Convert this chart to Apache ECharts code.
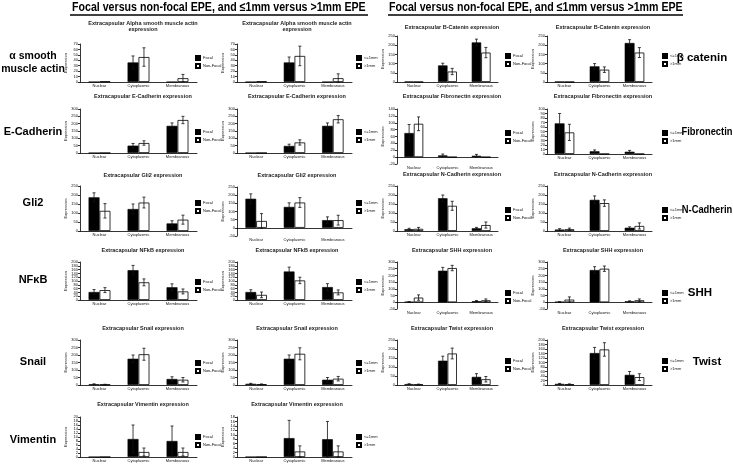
<!DOCTYPE html>
<html>
<head>
<meta charset="utf-8">
<script src="https://cdn.jsdelivr.net/npm/echarts@6/dist/echarts.min.js"></script>
<style>
  html, body { margin: 0; padding: 0; background: #fff; }
  #chart { width: 733px; height: 470px; }
</style>
</head>
<body>
<div id="chart"></div>
<script>
const categories = ['Nuclear', 'Cytoplasmic', 'Membranous'];
const focalNames = ['Focal', 'Non-Focal'];
const sizeNames = ['<=1mm', '>1mm'];

// mean values: [first group, second group]; errors have the same shape
const smaFocalMean = [[0, 36, 0], [1, 46, 7]];
const smaFocalErr = [[0, 12, 0], [0, 17, 7]];
const smaSizeMean = [[0, 36, 0], [1, 48, 7]];
const smaSizeErr = [[0, 10, 0], [0, 18, 8]];

const bcatFocalMean = [[2, 90, 215], [0, 57, 160]];
const bcatFocalErr = [[0, 12, 18], [0, 17, 28]];
const bcatSizeMean = [[2, 85, 212], [0, 67, 160]];
const bcatSizeErr = [[0, 15, 18], [0, 15, 27]];

const ecadFocalMean = [[0, 50, 185], [0, 68, 225]];
const ecadFocalErr = [[0, 15, 20], [0, 15, 25]];
const ecadSizeMean = [[0, 48, 185], [0, 72, 230]];
const ecadSizeErr = [[0, 12, 20], [0, 18, 25]];

const fibroFocalMean = [[70, 5, 4], [97, 0, 0]];
const fibroFocalErr = [[25, 4, 4], [20, 0, 0]];
const fibroSizeMean = [[68, 6, 5], [48, 0, 0]];
const fibroSizeErr = [[22, 3, 3], [18, 0, 0]];

const gli2FocalMean = [[187, 122, 42], [112, 158, 63]];
const gli2FocalErr = [[25, 28, 15], [40, 30, 25]];
const gli2SizeMean = [[178, 128, 47], [42, 155, 47]];
const gli2SizeErr = [[30, 25, 20], [45, 30, 30]];

const ncadFocalMean = [[10, 182, 15], [12, 140, 33]];
const ncadFocalErr = [[5, 18, 5], [8, 25, 17]];
const ncadSizeMean = [[8, 173, 18], [10, 155, 28]];
const ncadSizeErr = [[5, 22, 5], [6, 18, 17]];

const nfkbFocalMean = [[42, 157, 67], [52, 93, 45]];
const nfkbFocalErr = [[13, 25, 18], [13, 18, 13]];
const nfkbSizeMean = [[42, 150, 68], [27, 103, 40]];
const nfkbSizeErr = [[12, 23, 18], [15, 17, 13]];

const shhFocalMean = [[3, 235, 8], [35, 255, 15]];
const shhFocalErr = [[2, 25, 5], [20, 20, 10]];
const shhSizeMean = [[3, 240, 7], [20, 250, 15]];
const shhSizeErr = [[2, 25, 4], [20, 20, 10]];

const snailFocalMean = [[5, 175, 40], [3, 205, 35]];
const snailFocalErr = [[3, 25, 15], [2, 40, 15]];
const snailSizeMean = [[8, 175, 35], [5, 208, 42]];
const snailSizeErr = [[3, 25, 15], [2, 40, 15]];

const twistFocalMean = [[5, 135, 45], [3, 175, 32]];
const twistFocalErr = [[2, 25, 18], [2, 30, 15]];
const twistSizeMean = [[5, 142, 45], [3, 158, 35]];
const twistSizeErr = [[2, 25, 15], [2, 30, 15]];

const vimFocalMean = [[0, 9, 8], [0, 2.5, 2.5]];
const vimFocalErr = [[0, 7, 7.5], [0, 2, 2]];
const vimSizeMean = [[0, 8.5, 8], [0, 2.5, 2.5]];
const vimSizeErr = [[0, 8, 8], [0, 2.5, 2.5]];

// y axis [min, max, interval]
const smaFocalAxis = [0, 70, 10], smaSizeAxis = [0, 70, 10];
const bcatFocalAxis = [0, 250, 50], bcatSizeAxis = [0, 250, 50];
const ecadFocalAxis = [0, 300, 50], ecadSizeAxis = [0, 300, 50];
const fibroFocalAxis = [-20, 140, 20], fibroSizeAxis = [0, 100, 10];
const gli2FocalAxis = [0, 250, 50], gli2SizeAxis = [-50, 250, 50];
const ncadFocalAxis = [0, 250, 50], ncadSizeAxis = [0, 250, 50];
const nfkbFocalAxis = [0, 200, 20], nfkbSizeAxis = [0, 200, 20];
const shhFocalAxis = [-50, 300, 50], shhSizeAxis = [-50, 300, 50];
const snailFocalAxis = [0, 300, 50], snailSizeAxis = [0, 300, 50];
const twistFocalAxis = [0, 250, 50], twistSizeAxis = [0, 200, 20];
const vimFocalAxis = [0, 20, 2], vimSizeAxis = [0, 18, 2];

const cols = [
    { left: 80, width: 117, titleX: 143, legendX: 195 },
    { left: 237, width: 115, titleX: 297, legendX: 356 },
    { left: 397, width: 101, titleX: 452, legendX: 505 },
    { left: 547, width: 105, titleX: 603, legendX: 662 }
];

const panels = [
    { t: 'Extracapsular Alpha smooth muscle actin\nexpression', m: smaFocalMean, e: smaFocalErr, n: focalNames, y: smaFocalAxis, c: 0, tt: 20, top: 44, h: 38, ly: 60 },
    { t: 'Extracapsular Alpha smooth muscle actin\nexpression', m: smaSizeMean, e: smaSizeErr, n: sizeNames, y: smaSizeAxis, c: 1, tt: 20, top: 44, h: 38, ly: 60 },
    { t: 'Extracapsular B-Catenin expression', m: bcatFocalMean, e: bcatFocalErr, n: focalNames, y: bcatFocalAxis, c: 2, tt: 24, top: 36, h: 46, ly: 58 },
    { t: 'Extracapsular B-Catenin expression', m: bcatSizeMean, e: bcatSizeErr, n: sizeNames, y: bcatSizeAxis, c: 3, tt: 24, top: 36, h: 46, ly: 58 },
    { t: 'Extracapsular E-Cadherin expression', m: ecadFocalMean, e: ecadFocalErr, n: focalNames, y: ecadFocalAxis, c: 0, tt: 93, top: 109, h: 44, ly: 134 },
    { t: 'Extracapsular E-Cadherin expression', m: ecadSizeMean, e: ecadSizeErr, n: sizeNames, y: ecadSizeAxis, c: 1, tt: 93, top: 109, h: 44, ly: 134 },
    { t: 'Extracapsular Fibronectin expression', m: fibroFocalMean, e: fibroFocalErr, n: focalNames, y: fibroFocalAxis, c: 2, tt: 93, top: 109, h: 55, ly: 135 },
    { t: 'Extracapsular Fibronectin expression', m: fibroSizeMean, e: fibroSizeErr, n: sizeNames, y: fibroSizeAxis, c: 3, tt: 93, top: 109, h: 45, ly: 135 },
    { t: 'Extracapsular Gli2 expression', m: gli2FocalMean, e: gli2FocalErr, n: focalNames, y: gli2FocalAxis, c: 0, tt: 172, top: 186, h: 45, ly: 205 },
    { t: 'Extracapsular Gli2 expression', m: gli2SizeMean, e: gli2SizeErr, n: sizeNames, y: gli2SizeAxis, c: 1, tt: 172, top: 187, h: 49, ly: 205 },
    { t: 'Extracapsular N-Cadherin expression', m: ncadFocalMean, e: ncadFocalErr, n: focalNames, y: ncadFocalAxis, c: 2, tt: 171, top: 186, h: 45, ly: 212 },
    { t: 'Extracapsular N-Cadherin expression', m: ncadSizeMean, e: ncadSizeErr, n: sizeNames, y: ncadSizeAxis, c: 3, tt: 171, top: 186, h: 45, ly: 212 },
    { t: 'Extracapsular NFkB expression', m: nfkbFocalMean, e: nfkbFocalErr, n: focalNames, y: nfkbFocalAxis, c: 0, tt: 247, top: 262, h: 38, ly: 284 },
    { t: 'Extracapsular NFkB expression', m: nfkbSizeMean, e: nfkbSizeErr, n: sizeNames, y: nfkbSizeAxis, c: 1, tt: 247, top: 262, h: 38, ly: 284 },
    { t: 'Extracapsular SHH expression', m: shhFocalMean, e: shhFocalErr, n: focalNames, y: shhFocalAxis, c: 2, tt: 247, top: 262, h: 47, ly: 295 },
    { t: 'Extracapsular SHH expression', m: shhSizeMean, e: shhSizeErr, n: sizeNames, y: shhSizeAxis, c: 3, tt: 247, top: 262, h: 47, ly: 295 },
    { t: 'Extracapsular Snail expression', m: snailFocalMean, e: snailFocalErr, n: focalNames, y: snailFocalAxis, c: 0, tt: 325, top: 340, h: 45, ly: 365 },
    { t: 'Extracapsular Snail expression', m: snailSizeMean, e: snailSizeErr, n: sizeNames, y: snailSizeAxis, c: 1, tt: 325, top: 340, h: 45, ly: 365 },
    { t: 'Extracapsular Twist expression', m: twistFocalMean, e: twistFocalErr, n: focalNames, y: twistFocalAxis, c: 2, tt: 325, top: 340, h: 45, ly: 363 },
    { t: 'Extracapsular Twist expression', m: twistSizeMean, e: twistSizeErr, n: sizeNames, y: twistSizeAxis, c: 3, tt: 325, top: 340, h: 45, ly: 363 },
    { t: 'Extracapsular Vimentin expression', m: vimFocalMean, e: vimFocalErr, n: focalNames, y: vimFocalAxis, c: 0, tt: 401, top: 417, h: 40, ly: 439 },
    { t: 'Extracapsular Vimentin expression', m: vimSizeMean, e: vimSizeErr, n: sizeNames, y: vimSizeAxis, c: 1, tt: 401, top: 417, h: 40, ly: 439 }
];

const font = 'Liberation Sans, Arial, sans-serif';
const chart = echarts.init(document.getElementById('chart'), null, { renderer: 'canvas' });

const title = [], grid = [], xAxis = [], yAxis = [], legend = [], series = [];

panels.forEach((p, i) => {
    const col = cols[p.c];
    title.push({
        text: p.t, left: col.titleX, top: p.tt, textAlign: 'center', padding: 0,
        textStyle: { fontSize: 5.5, fontWeight: 'bold', fontFamily: font, color: '#222', lineHeight: 6 }
    });
    grid.push({ left: col.left, top: p.top, width: col.width, height: p.h });
    xAxis.push({
        type: 'category', gridIndex: i, data: categories,
        axisLine: { lineStyle: { color: '#000', width: 0.8 } },
        axisTick: { length: 2, lineStyle: { color: '#000', width: 0.8 } },
        axisLabel: { interval: 0, fontSize: 4, margin: 2, color: '#111', fontFamily: font }
    });
    yAxis.push({
        type: 'value', gridIndex: i, min: p.y[0], max: p.y[1], interval: p.y[2],
        name: 'Expression', nameLocation: 'middle', nameGap: 12,
        nameTextStyle: { fontSize: 4, color: '#111', fontFamily: font },
        axisLine: { show: true, lineStyle: { color: '#000', width: 0.8 } },
        axisTick: { show: true, length: 2, lineStyle: { color: '#000', width: 0.8 } },
        axisLabel: { fontSize: 4, margin: 2, color: '#111', fontFamily: font },
        splitLine: { show: false }
    });
    legend.push({
        data: p.n, left: col.legendX, top: p.ly - 5, orient: 'vertical',
        itemWidth: 4, itemHeight: 4, itemGap: 2, padding: 0, selectedMode: false,
        icon: 'rect',
        textStyle: { fontSize: 4, color: '#111', fontFamily: font, padding: [0, 0, 0, -2] }
    });
    p.n.forEach((name, g) => {
        series.push({
            name, type: 'bar', xAxisIndex: i, yAxisIndex: i,
            data: p.m[g], barWidth: '28%', barGap: '0%',
            itemStyle: g === 0
                ? { color: '#000', borderColor: '#000', borderWidth: 0.6 }
                : { color: '#fff', borderColor: '#000', borderWidth: 0.8 },
            animation: false
        });
    });
    p.n.forEach((name, g) => {
        const side = g === 0 ? -1 : 1;
        series.push({
            type: 'custom', xAxisIndex: i, yAxisIndex: i, z: 10,
            data: p.m[g].map((v, k) => [k, v, p.e[g][k]]),
            renderItem: (params, api) => {
                const k = api.value(0), v = api.value(1), e = api.value(2);
                if (!e) return null;
                const band = api.size([1, 0])[0];
                const x = api.coord([k, v])[0] + side * band * 0.14;
                const yTop = api.coord([k, v + e])[1];
                const yBot = api.coord([k, v - e])[1];
                const st = { stroke: '#111', lineWidth: 0.8 };
                return {
                    type: 'group', children: [
                        { type: 'line', shape: { x1: x, y1: yTop, x2: x, y2: yBot }, style: st },
                        { type: 'line', shape: { x1: x - 1.5, y1: yTop, x2: x + 1.5, y2: yTop }, style: st },
                        { type: 'line', shape: { x1: x - 1.5, y1: yBot, x2: x + 1.5, y2: yBot }, style: st }
                    ]
                };
            },
            animation: false
        });
    });
});

const header = 'Focal versus non-focal EPE, and \u22641mm versus >1mm EPE';
const headStyle = { text: header, fontSize: 12.5, fontWeight: 'bold', fontFamily: font, fill: '#000' };
const labelStyle = (size) => ({ fontSize: size, fontWeight: 'bold', fontFamily: font, fill: '#000', textAlign: 'center', textVerticalAlign: 'middle' });

const graphic = [
    { type: 'text', x: 72, y: 1, scaleX: 0.85, style: headStyle },
    { type: 'text', x: 389, y: 1, scaleX: 0.85, style: headStyle },
    { type: 'line', shape: { x1: 70, y1: 15, x2: 368, y2: 15 }, style: { stroke: '#000', lineWidth: 1.5 } },
    { type: 'line', shape: { x1: 388, y1: 15, x2: 683, y2: 15 }, style: { stroke: '#000', lineWidth: 1.5 } },
    { type: 'text', x: 33, y: 63, style: Object.assign({ text: '\u03b1 smooth\nmuscle actin', lineHeight: 13 }, labelStyle(10.5)) },
    { type: 'text', x: 33, y: 132, style: Object.assign({ text: 'E-Cadherin' }, labelStyle(11)) },
    { type: 'text', x: 33, y: 203, style: Object.assign({ text: 'Gli2' }, labelStyle(11)) },
    { type: 'text', x: 33, y: 280, style: Object.assign({ text: 'NF\u03baB' }, labelStyle(11)) },
    { type: 'text', x: 33, y: 362, style: Object.assign({ text: 'Snail' }, labelStyle(11)) },
    { type: 'text', x: 33, y: 440, style: Object.assign({ text: 'Vimentin' }, labelStyle(11)) },
    { type: 'text', x: 702, y: 58, style: Object.assign({ text: '\u03b2 catenin' }, labelStyle(11.5)) },
    { type: 'text', x: 707, y: 132, scaleX: 0.85, style: Object.assign({ text: 'Fibronectin' }, labelStyle(11)) },
    { type: 'text', x: 707, y: 210, scaleX: 0.85, style: Object.assign({ text: 'N-Cadherin' }, labelStyle(11)) },
    { type: 'text', x: 700, y: 293, style: Object.assign({ text: 'SHH' }, labelStyle(11.5)) },
    { type: 'text', x: 707, y: 362, style: Object.assign({ text: 'Twist' }, labelStyle(11.5)) }
];

chart.setOption({
    backgroundColor: '#fff',
    animation: false,
    title, grid, xAxis, yAxis, legend, series, graphic
});
</script>
</body>
</html>
